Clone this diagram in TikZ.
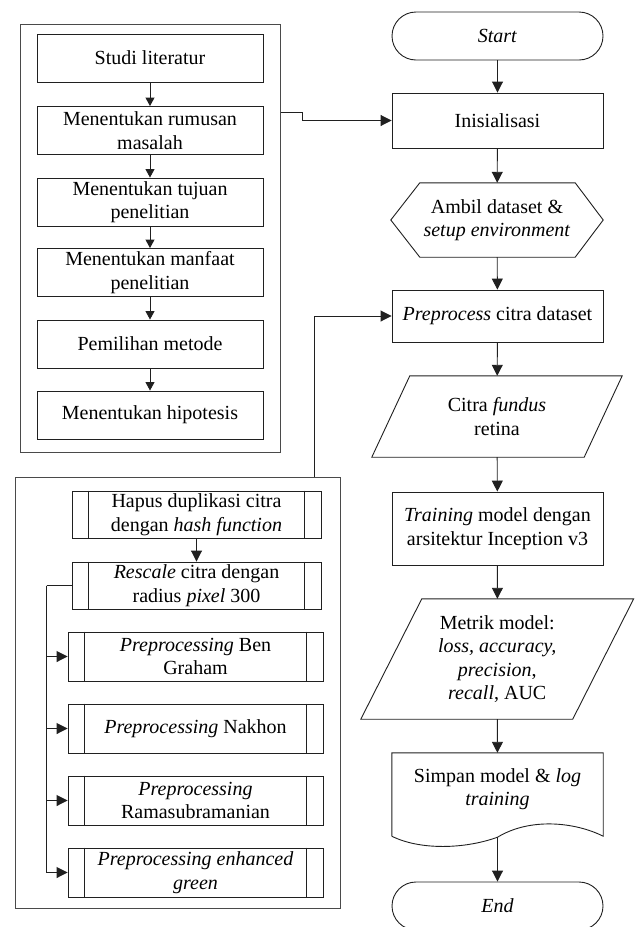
\documentclass[tikz,border=0pt]{standalone}
\usepackage{fontspec}
\setmainfont{Liberation Serif}
\usetikzlibrary{arrows.meta,calc}
\newcommand\fsz{\fontsize{20pt}{23.5pt}\selectfont}
\definecolor{lc}{HTML}{202020}
\definecolor{gc}{HTML}{4a4a4a}
\begin{document}
\begin{tikzpicture}[x=1pt,y=-1pt,
  txt/.style={font=\fsz, align=center, inner sep=0pt, text=black},
  box/.style={txt, draw=lc, line width=0.9pt},
  grp/.style={draw=gc, line width=1pt, inner sep=0pt},
  link/.style={draw=lc, line width=0.9pt},
  arr/.style={link, -{Triangle[length=11pt,width=11pt]}},
  arrs/.style={link, -{Triangle[length=8.5pt,width=9pt]}},
  lbox/.style={box, minimum width=226pt, minimum height=48pt},
  rbox/.style={box, minimum width=211pt},
  term/.style={box, minimum width=211pt, minimum height=48pt, rounded corners=24pt},
  subp/.style={box, minimum height=48pt},
]
\useasboundingbox (0,0) rectangle (638,927);
\clip (0,0) rectangle (638,927);

% ---------- upper left group: research preparation ----------
\node[grp, minimum width=260pt, minimum height=428pt] (grpA) at (150,238) {};
\node[lbox] (studi)   at (150,58)    {Studi literatur};
\node[lbox] (rumusan) at (150,130.5) {Menentukan rumusan\\masalah};
\node[lbox] (tujuan)  at (150,202)   {Menentukan tujuan\\penelitian};
\node[lbox] (manfaat) at (150,272.5) {Menentukan manfaat\\penelitian};
\node[lbox] (metode)  at (150,344)   {Pemilihan metode};
\node[lbox] (hipo)    at (150,415)   {Menentukan hipotesis};
\draw[arrs] (studi) -- (rumusan);
\draw[arrs] (rumusan) -- (tujuan);
\draw[arrs] (tujuan) -- (manfaat);
\draw[arrs] (manfaat) -- (metode);
\draw[arrs] (metode) -- (hipo);

% ---------- lower left group: preprocessing steps ----------
\node[grp, minimum width=325pt, minimum height=431pt] (grpB) at (177.5,692.5) {};
\node[subp, minimum width=249pt, minimum height=47pt] (hapus)   at (196.5,514.5) {Hapus duplikasi citra\\dengan \textit{hash function}};
\node[subp, minimum width=249pt, minimum height=47pt] (rescale) at (196.5,585.5) {\textit{Rescale} citra dengan\\radius \textit{pixel} 300};
\node[subp, minimum width=255pt, minimum height=49pt] (ben)     at (195.5,656.5) {\textit{Preprocessing} Ben\\Graham};
\node[subp, minimum width=255pt, minimum height=49pt] (nakhon)  at (195.5,728.5) {\textit{Preprocessing} Nakhon};
\node[subp, minimum width=255pt, minimum height=49pt] (rama)    at (195.5,800.5) {\textit{Preprocessing}\\Ramasubramanian};
\node[subp, minimum width=255pt, minimum height=49pt] (green)   at (195.5,872.5) {\textit{Preprocessing enhanced}\\\textit{green}};
\foreach \n in {hapus,rescale,ben,nakhon,rama,green}{
  \draw[link] ($(\n.north west)+(17,0)$) -- ($(\n.south west)+(17,0)$);
  \draw[link] ($(\n.north east)+(-17,0)$) -- ($(\n.south east)+(-17,0)$);
}
\draw[arr] (hapus) -- (rescale);
\draw[link] (rescale.west) -- ++(-25,0) coordinate (bus);
\foreach \n in {ben,nakhon,rama,green}{
  \draw[arr] (bus) |- (\n.west);
}

% ---------- main flow ----------
\node[term] (start) at (497.5,36) {\textit{Start}};
\node[rbox, minimum height=55pt] (init) at (497.5,120.5) {Inisialisasi};

\node[txt, minimum width=212pt, minimum height=74pt] (hex) at (497,220) {Ambil dataset \&\\\textit{setup environment}};
\draw[link] (hex.west) -- ($(hex.north west)+(29,0)$) -- ($(hex.north east)+(-28,0)$)
  -- (hex.east) -- ($(hex.south east)+(-28,0)$) -- ($(hex.south west)+(29,0)$) -- cycle;

\node[rbox, minimum height=52pt] (prep) at (497.5,316) {\textit{Preprocess} citra dataset};

\node[txt, minimum width=212pt, minimum height=81pt] (citra) at (497,416.5) {Citra \textit{fundus}\\retina};
\draw[link] ($(citra.north west)+(19,0)$) -- ($(citra.north east)+(19,0)$)
  -- ($(citra.south east)+(-19,0)$) -- ($(citra.south west)+(-19,0)$) -- cycle;

\node[rbox, minimum height=73pt] (train) at (497.5,528.5) {\textit{Training} model dengan\\arsitektur Inception v3};

\node[txt, minimum width=211.5pt, minimum height=120pt] (metrik) at (497.25,659) {Metrik model:\\\textit{loss, accuracy,}\\\textit{precision},\\\textit{recall}, AUC};
\draw[link] ($(metrik.north west)+(30.5,0)$) -- ($(metrik.north east)+(30.5,0)$)
  -- ($(metrik.south east)+(-30.5,0)$) -- ($(metrik.south west)+(-30.5,0)$) -- cycle;

\node[txt, minimum width=211pt, minimum height=83pt, text depth=0pt] (simpan) at (497.5,794.5) {};
\node[txt] (simpantxt) at (497.5,789) {Simpan model \& \textit{log}\\\textit{training}};
\draw[link] (simpan.south west) -- (simpan.north west) -- (simpan.north east) -- (simpan.south east)
  .. controls ($(simpan.south east)+(-28,-14)$) and ($(simpan.south)+(33,-19)$) .. ($(simpan.south)+(0,1)$)
  .. controls ($(simpan.south)+(-33,13)$) and ($(simpan.south west)+(28,14)$) .. (simpan.south west);

\node[term] (end) at (497.5,906) {\textit{End}};

\draw[arr] (start) -- (init);
\draw[arr] (init) -- (hex);
\draw[arr] (hex) -- (prep);
\draw[arr] (prep) -- (citra);
\draw[arr] (citra) -- (train);
\draw[arr] (train) -- (metrik);
\draw[arr] (metrik) -- (simpan);
\draw[arr] ($(simpan.south)+(0,1)$) -- (end);

% ---------- links from the groups into the main flow ----------
\draw[arr] ($(grpA.north east)+(0,89)$) -- ++(22,0) |- (init.west);
\draw[arr] ($(grpB.north east)+(-26,0)$) |- (prep.west);
\end{tikzpicture}
\end{document}
